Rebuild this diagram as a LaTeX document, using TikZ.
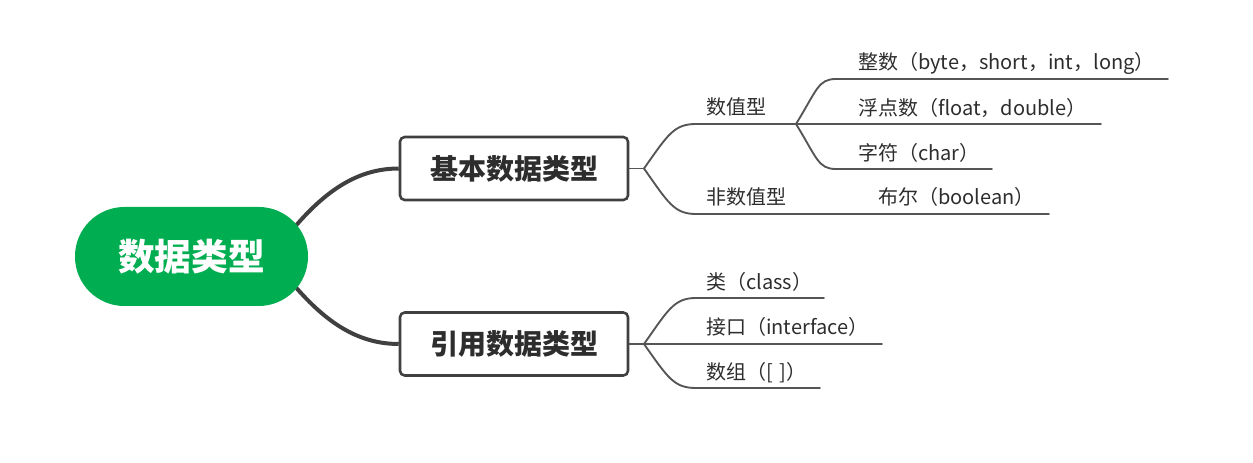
\documentclass[tikz,border=0pt]{standalone}
\usepackage{fontspec}
\setmainfont{Noto Sans CJK SC}
\usetikzlibrary{backgrounds}
\definecolor{rootgreen}{RGB}{0,174,81}
\definecolor{darkline}{RGB}{64,64,64}
\definecolor{thinline}{RGB}{85,85,85}
\definecolor{txt}{RGB}{45,45,45}
\tikzset{
  rootnode/.style={fill=rootgreen, text=white, rounded corners=37pt, minimum width=174.75pt, minimum height=74.25pt, inner sep=0pt, font=\fontsize{27.5pt}{30pt}\selectfont\bfseries},
  boxnode/.style={draw=darkline, line width=1.9pt, fill=white, rounded corners=3.5pt, minimum width=171pt, minimum height=47.25pt, inner sep=0pt, text=txt, font=\fontsize{21pt}{24pt}\selectfont\bfseries},
  leaf/.style={anchor=west, inner sep=0pt, text=txt, font=\fontsize{15pt}{17pt}\selectfont},
  thickconn/.style={draw=darkline, line width=3pt},
  thinconn/.style={draw=thinline, line width=1.4pt, line cap=round, line join=round},
}
\begin{document}
\begin{tikzpicture}[x=0.75pt,y=-0.75pt]
\useasboundingbox (0,0) rectangle (1253,463);
% main nodes
\node[rootnode] (root) at (191.5,256.5) {数据类型};
\node[boxnode] (b1) at (514,168.5) {基本数据类型};
\node[boxnode] (b2) at (514,344) {引用数据类型};
% thick connectors
\coordinate (r1) at (280,245);
\coordinate (r2) at (280,268);
\begin{scope}[on background layer]
\draw[thickconn] (r1) .. controls (315,200) and (350,168.5) .. (b1.west);
\draw[thickconn] (r2) .. controls (315,313) and (350,344) .. (b2.west);
\end{scope}
% leaf texts
\node[leaf] (num) at (706,107) {数值型};
\node[leaf] (nonnum) at (706,197) {非数值型};
\node[leaf] (int) at (858,63) {整数（byte，short，int，long）};
\node[leaf] (flt) at (858,108) {浮点数（float，double）};
\node[leaf] (chr) at (858,153) {字符（char）};
\node[leaf] (bool) at (878,197) {布尔（boolean）};
\node[leaf] (cls) at (706,282) {类（class）};
\node[leaf] (itf) at (706,327) {接口（interface）};
\node[leaf] (arr) at (706,373) {数组（[\,\,]）};
% branch coordinates
\coordinate (f1) at (644,168.5);
\coordinate (s1) at (696,124);
\coordinate (f2) at (796,124);
\coordinate (s2) at (696,214);
\coordinate (e2) at (1049,214);
\coordinate (t1s) at (836,79);
\coordinate (t1e) at (1168,79);
\coordinate (t2e) at (1101,124);
\coordinate (t3s) at (836,169);
\coordinate (t3e) at (992,169);
\coordinate (f3) at (644,344);
\coordinate (c1s) at (696,298);
\coordinate (c1e) at (824,298);
\coordinate (c2e) at (882,344);
\coordinate (c3s) at (696,388);
\coordinate (c3e) at (820,388);
% thin connectors, box 1
\draw[thinconn] (b1.east) -- (f1);
\draw[thinconn] (f1) .. controls +(24,-34) and +(-22,0) .. (s1) -- (f2);
\draw[thinconn] (f1) .. controls +(24,34) and +(-22,0) .. (s2) -- (e2);
\draw[thinconn] (f2) .. controls +(21,-34) and +(-18,0) .. (t1s) -- (t1e);
\draw[thinconn] (f2) -- (t2e);
\draw[thinconn] (f2) .. controls +(21,34) and +(-18,0) .. (t3s) -- (t3e);
% thin connectors, box 2
\draw[thinconn] (b2.east) -- (f3);
\draw[thinconn] (f3) .. controls +(24,-34) and +(-22,0) .. (c1s) -- (c1e);
\draw[thinconn] (f3) -- (c2e);
\draw[thinconn] (f3) .. controls +(24,34) and +(-22,0) .. (c3s) -- (c3e);
\end{tikzpicture}
\end{document}
